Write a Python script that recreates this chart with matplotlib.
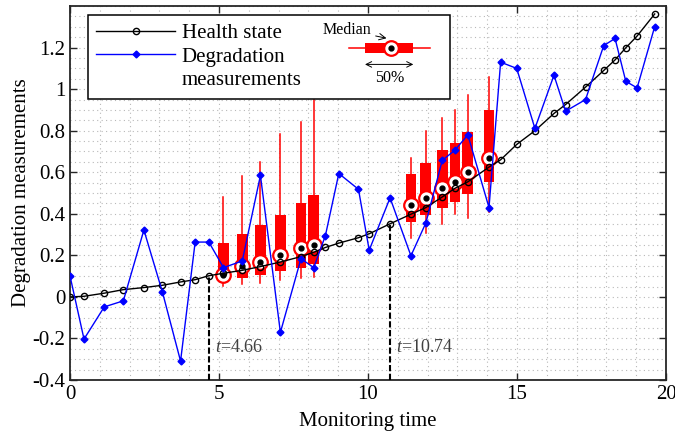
import numpy as np
import matplotlib
matplotlib.use('Agg')
import matplotlib.pyplot as plt
from matplotlib.patches import Rectangle
from matplotlib.ticker import MultipleLocator

plt.rcParams['font.family'] = ['Liberation Serif', 'DejaVu Serif']
plt.rcParams['mathtext.fontset'] = 'custom'
plt.rcParams['mathtext.rm'] = 'Liberation Serif'
plt.rcParams['mathtext.it'] = 'Liberation Serif:italic'
plt.rcParams['axes.unicode_minus'] = False

# monitoring times
t = [0, 0.47, 1.15, 1.79, 2.48, 3.1, 3.71, 4.2, 4.66, 5.15, 5.78, 6.39, 7.06,
     7.75, 8.18, 8.57, 9.02, 9.68, 10.04, 10.74, 11.44, 11.94, 12.49, 12.92,
     13.35, 14.06, 14.45, 14.99, 15.6, 16.24, 16.63, 17.3, 17.91, 18.29,
     18.65, 19.03, 19.62]
health = [0, 0.003, 0.018, 0.035, 0.045, 0.056, 0.072, 0.083, 0.102, 0.114,
          0.128, 0.146, 0.168, 0.194, 0.215, 0.238, 0.259, 0.285, 0.304, 0.352,
          0.398, 0.43, 0.481, 0.523, 0.554, 0.625, 0.66, 0.734, 0.8, 0.883,
          0.926, 1.01, 1.09, 1.141, 1.199, 1.256, 1.362]
meas = [0.101, -0.203, -0.048, -0.019, 0.322, 0.024, -0.309, 0.264, 0.264,
        0.141, 0.173, 0.585, -0.171, 0.184, 0.141, 0.295, 0.594, 0.518, 0.225,
        0.477, 0.198, 0.356, 0.657, 0.707, 0.78, 0.43, 1.13, 1.1, 0.811, 1.067,
        0.894, 0.95, 1.21, 1.244, 1.038, 1.006, 1.301]

# predictive box plots
box_t = [5.15, 5.78, 6.39, 7.06, 7.75, 8.18, 11.44, 11.94, 12.49, 12.92, 13.35, 14.06]
box_lo = [0.053, 0.061, 0.069, 0.08, 0.093, 0.096, 0.285, 0.309, 0.35, 0.4, 0.378, 0.41]
box_q1 = [0.077, 0.09, 0.106, 0.125, 0.141, 0.16, 0.362, 0.394, 0.43, 0.458, 0.497, 0.553]
box_med = [0.105, 0.149, 0.168, 0.202, 0.237, 0.25, 0.441, 0.477, 0.525, 0.554, 0.602, 0.67]
box_q3 = [0.261, 0.301, 0.346, 0.394, 0.453, 0.492, 0.593, 0.643, 0.705, 0.742, 0.795, 0.899]
box_hi = [0.48, 0.582, 0.649, 0.782, 0.843, 0.947, 0.67, 0.801, 0.862, 0.902, 0.974, 1.06]

t_mark = [4.66, 10.74]
h_mark = [0.102, 0.352]

yticks = [-0.4, -0.2, 0, 0.2, 0.4, 0.6, 0.8, 1, 1.2]
ytick_labels = ['-0.4', '-0.2', '0', '0.2', '0.4', '0.6', '0.8', '1', '1.2']

fig = plt.figure(figsize=(6.75, 4.34), dpi=100)
ax = fig.add_axes([0.1037, 0.1244, 0.883, 0.8616])

stats = []
for i in range(len(box_t)):
    stats.append(dict(med=box_med[i], q1=box_q1[i], q3=box_q3[i],
                      whislo=box_lo[i], whishi=box_hi[i], fliers=[]))
ax.bxp(stats, positions=box_t, widths=0.36, patch_artist=True, showcaps=False,
       showfliers=False, manage_ticks=False,
       boxprops=dict(facecolor='red', edgecolor='red', linewidth=0),
       whiskerprops=dict(color='red', linewidth=1.1),
       medianprops=dict(linewidth=0), zorder=2)
ax.plot(box_t, box_med, 'o', ms=10.5, mfc='white', mec='red', mew=1.6, zorder=3)
ax.plot(box_t, box_med, 'o', ms=3.5, color='black', zorder=3.1)

for tm, hm in zip(t_mark, h_mark):
    ax.vlines(tm, -0.4, hm, colors='black', linestyles=(0, (3, 1.2)), linewidth=1.5, zorder=3)
    ax.text(tm + 0.2, -0.245, '$t$=%.2f' % tm, fontsize=13, color='0.25',
            ha='left', va='center')

ax.plot(t, health, 'o-', color='black', lw=1, ms=4.5, mfc='none', mew=1,
        label='Health state', zorder=4)
ax.plot(t, meas, 'D-', color='blue', lw=1, ms=3.5, label='Degradation', zorder=4)
ax.plot([], [], color='none', label='measurements')

ax.set_xlim(0, 20)
ax.set_ylim(-0.4, 1.4)
ax.set_xticks([0, 5, 10, 15, 20])
ax.set_yticks(yticks)
ax.set_yticklabels(ytick_labels)
ax.xaxis.set_minor_locator(MultipleLocator(1))
ax.yaxis.set_minor_locator(MultipleLocator(0.05))
ax.tick_params(which='major', direction='in', top=True, right=True, length=5,
               width=1, labelsize=15, color='0.15')
ax.tick_params(which='minor', length=0)
ax.grid(which='both', linestyle=(0, (1, 3)), color='0.72', linewidth=0.8)
ax.set_axisbelow(True)
for s in ax.spines.values():
    s.set_color('0.15')
    s.set_linewidth(1.3)
ax.set_xlabel('Monitoring time', fontsize=15, labelpad=6)
ax.set_ylabel('Degradation measurements', fontsize=15, labelpad=1)

leg = ax.legend(loc='upper left', bbox_to_anchor=(0.03, 0.762, 0.608, 0.214),
                mode='expand', borderaxespad=0, fontsize=15, handlelength=3.8,
                handletextpad=0.3, labelspacing=0.2, borderpad=0.4,
                fancybox=False, framealpha=1, edgecolor='black')
leg.get_frame().set_linewidth(1.1)

# box plot key drawn inside the legend frame
ax.plot([0.4686, 0.604], [0.8885, 0.8885], color='red', lw=1.1,
        transform=ax.transAxes, zorder=6)
ax.add_patch(Rectangle((0.495, 0.874), 0.081, 0.0284, facecolor='red',
                       edgecolor='none', transform=ax.transAxes, zorder=6))
ax.plot([0.538], [0.8885], 'o', ms=10.5, mfc='white', mec='red', mew=1.6,
        transform=ax.transAxes, zorder=7)
ax.plot([0.538], [0.8885], 'o', ms=3.5, color='black',
        transform=ax.transAxes, zorder=7.1)
ax.annotate('Median', xy=(0.531, 0.914), xytext=(0.465, 0.936),
            xycoords='axes fraction', textcoords='axes fraction',
            ha='center', va='center', fontsize=11.5, zorder=7,
            arrowprops=dict(arrowstyle='->', lw=0.7, shrinkA=1, shrinkB=0))
ax.annotate('', xy=(0.576, 0.844), xytext=(0.495, 0.844),
            xycoords='axes fraction', textcoords='axes fraction', zorder=7,
            arrowprops=dict(arrowstyle='<->', lw=0.7, shrinkA=0, shrinkB=0))
ax.text(0.537, 0.807, '50%', transform=ax.transAxes, ha='center', va='center',
        fontsize=11.5, zorder=7)

fig.savefig('out.png', dpi=100)
